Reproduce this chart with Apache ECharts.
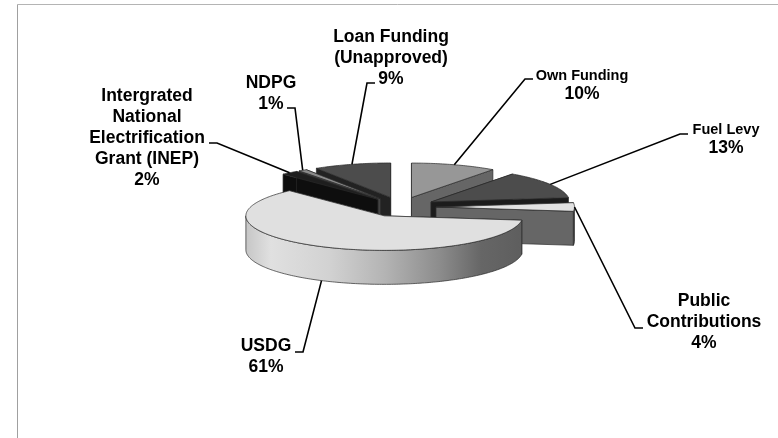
<!DOCTYPE html>
<html>
<head>
<meta charset="utf-8">
<style>html,body{margin:0;padding:0;background:#fff}#chart{width:778px;height:438px}</style>
<script src="https://cdn.jsdelivr.net/npm/echarts@6/dist/echarts.min.js"></script>
</head>
<body>
<div id="chart"></div>
<script>
// Funding sources, clockwise from twelve o'clock
const categories = ['Own Funding', 'Fuel Levy', 'Public\nContributions', 'USDG',
  'Intergrated\nNational\nElectrification\nGrant (INEP)', 'NDPG', 'Loan Funding\n(Unapproved)'];
const shares = [10, 13, 4, 61, 2, 1, 9];

// Back-to-front paint order of the exploded slices
const paintOrder = [6, 5, 4, 0, 1, 2, 3];

// Face colours per slice
const topColors = ['#979797', '#4c4c4c', '#e2e2e2', '#e0e0e0', '#1e1e1e', '#8a8a8a', '#4c4c4c'];
const sideColors = ['#666666', '#1c1c1c', '#666666', '#666666', '#0e0e0e', '#444444', '#222222'];

// Pie geometry in pixels
const pie = { cx: 400.5, cy: 207, rx: 138.5, ry: 34.5, depth: 34, explode: 35.5, explodeY: 0.28 };

// Label anchors and leader elbows in pixels
const labelLayout = [
  { x: 582, y: 85, size: 14.5, elbow: [[525, 79], [533, 79]] },
  { x: 726, y: 139, size: 14.5, elbow: [[680, 134], [688, 134]] },
  { x: 704, y: 322.5, size: 17.5, elbow: [[635, 328], [643, 328]] },
  { x: 266, y: 357, size: 17.5, elbow: [[303, 352], [295, 352]] },
  { x: 147, y: 138, size: 17.5, elbow: [[217, 143], [209, 143]] },
  { x: 271, y: 93.5, size: 17.5, elbow: [[295, 108], [287, 108]] },
  { x: 391, y: 58, size: 17.5, elbow: [[367, 83], [375, 83]] }
];

const total = shares.reduce((a, b) => a + b, 0);
const startAngles = [];
shares.reduce((acc, v, i) => { startAngles[i] = acc; return acc + v; }, 0);

const rad = d => d * Math.PI / 180;
const sliceSpan = i => {
  const a0 = startAngles[i] / total * 360;
  const a1 = a0 + shares[i] / total * 360;
  return [a0, a1];
};
const apexOf = i => {
  const [a0, a1] = sliceSpan(i);
  const mid = rad((a0 + a1) / 2);
  return [pie.cx + pie.explode * Math.sin(mid), pie.cy - pie.explode * pie.explodeY * Math.cos(mid)];
};
const rimPoint = (apex, deg, dy) => [
  apex[0] + pie.rx * Math.sin(rad(deg)),
  apex[1] - pie.ry * Math.cos(rad(deg)) + (dy || 0)
];
const arc = (apex, a0, a1, dy) => {
  const pts = [];
  const n = Math.max(2, Math.ceil(Math.abs(a1 - a0)));
  for (let k = 0; k <= n; k++) pts.push(rimPoint(apex, a0 + (a1 - a0) * k / n, dy));
  return pts;
};

const edge = { stroke: '#2a2a2a', lineWidth: 0.7, lineJoin: 'round' };
const poly = (points, fill, extra) => ({
  type: 'polygon', shape: { points }, style: Object.assign({ fill }, edge, extra || {}), silent: true
});

function rimFill(i, apex) {
  if (shares[i] < 50) return sideColors[i];
  // The large slice's outer wall is shaded from the left highlight to the right shadow
  return new echarts.graphic.LinearGradient(apex[0] - pie.rx, 0, apex[0] + pie.rx, 0, [
    { offset: 0, color: '#c6c6c6' }, { offset: 0.09, color: '#e0e0e0' },
    { offset: 0.3, color: '#d2d2d2' }, { offset: 0.5, color: '#b4b4b4' },
    { offset: 0.7, color: '#8c8c8c' }, { offset: 0.85, color: '#666666' },
    { offset: 1, color: '#5e5e5e' }
  ], true);
}

function topFill(i, apex) {
  if (categories[i].indexOf('Public') !== 0) return topColors[i];
  // Thin light slice fades to black toward the pie centre
  return new echarts.graphic.LinearGradient(apex[0], 0, apex[0] + 40, 0, [
    { offset: 0, color: '#111111' }, { offset: 1, color: topColors[i] }
  ], true);
}

function renderSlice(params, api) {
  const i = api.value(0);
  const apex = apexOf(i);
  const [a0, a1] = sliceSpan(i);
  const d = pie.depth;
  const low = [apex[0], apex[1] + d];
  const children = [];
  // Radial walls
  [a0, a1].forEach(a => {
    const r = rimPoint(apex, a);
    children.push(poly([apex, r, rimPoint(apex, a, d), low], sideColors[i]));
  });
  // Outer wall where it faces the viewer
  const f0 = Math.max(a0, 90), f1 = Math.min(a1, 270);
  if (f1 > f0) {
    children.push(poly(arc(apex, f0, f1).concat(arc(apex, f1, f0, d)), rimFill(i, apex)));
  }
  // Top face
  children.push(poly([apex].concat(arc(apex, a0, a1)), topFill(i, apex)));
  return { type: 'group', children };
}

function renderLabel(params, api) {
  const i = api.value(0);
  const apex = apexOf(i);
  const [a0, a1] = sliceSpan(i);
  const mid = (a0 + a1) / 2;
  const frontWall = mid > 90 && mid < 270 && shares[i] > 50;
  const start = rimPoint(apex, mid, frontWall ? pie.depth : 0);
  const lay = labelLayout[i];
  const lead = lay.size > 15 ? 21 : 19;
  return {
    type: 'group',
    children: [
      {
        type: 'polyline', silent: true,
        shape: { points: [start].concat(lay.elbow) },
        style: { stroke: '#000', lineWidth: 1.6, fill: null }
      },
      {
        type: 'text', silent: true, x: lay.x, y: lay.y,
        style: {
          text: '{n|' + categories[i].split('\n').join('}\n{n|') + '}\n{p|' + shares[i] + '%}',
          align: 'center', verticalAlign: 'middle',
          rich: {
            n: { font: 'bold ' + lay.size + 'px "Liberation Sans"', fill: '#000', lineHeight: lead, align: 'center' },
            p: { font: 'bold 17.5px "Liberation Sans"', fill: '#000', lineHeight: lead, align: 'center' }
          }
        }
      }
    ]
  };
}

const chart = echarts.init(document.getElementById('chart'), null, { renderer: 'canvas' });
chart.setOption({
  animation: false,
  backgroundColor: '#ffffff',
  graphic: [
    { type: 'line', silent: true, shape: { x1: 17.5, y1: 4.5, x2: 778, y2: 4.5 }, style: { stroke: '#b4b4b4', lineWidth: 1 } },
    { type: 'line', silent: true, shape: { x1: 17.5, y1: 4.5, x2: 17.5, y2: 438 }, style: { stroke: '#a0a0a0', lineWidth: 1 } }
  ],
  series: [
    { type: 'custom', coordinateSystem: 'none', renderItem: renderSlice, data: paintOrder.map(i => [i, shares[i]]), z: 2 },
    { type: 'custom', coordinateSystem: 'none', renderItem: renderLabel, data: paintOrder.map(i => [i, shares[i]]), z: 3 }
  ]
});
</script>
</body>
</html>
